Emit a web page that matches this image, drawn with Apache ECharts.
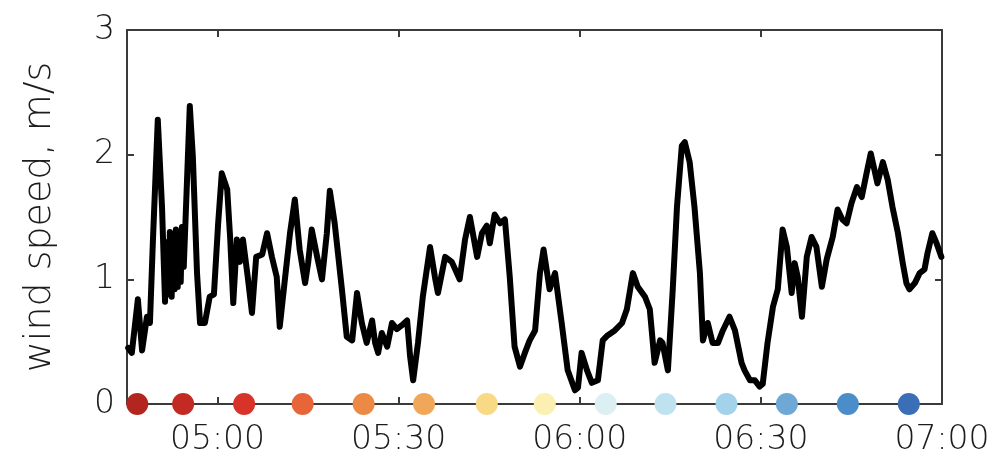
<!DOCTYPE html>
<html>
<head>
<meta charset="utf-8">
<style>
  html, body { margin: 0; padding: 0; background: #fff; }
  #chart { width: 998px; height: 462px; }
</style>
<script src="https://cdn.jsdelivr.net/npm/echarts@6/dist/echarts.min.js"></script>
</head>
<body>
<div id="chart"></div>
<script>
// Wind speed record, times in minutes after midnight
const windTimes = [
  285.2, 285.8, 286.8, 287.5, 288.3, 288.8, 289.3, 290.1, 290.8, 291.3,
  291.6, 291.9, 292.1, 292.4, 292.6, 292.9, 293.1, 293.4, 293.6, 293.9,
  294.1, 294.4, 294.7, 295.4, 295.9, 296.6, 297.1,
  297.9, 298.7, 299.4, 300.1, 300.7, 301.6, 302.1, 302.6, 303.2, 303.7,
  304.2, 305.0, 305.7, 306.4, 307.4, 308.2, 309.0, 309.8, 310.3, 311.2,
  312.0, 312.8, 313.6, 314.5, 315.0, 315.6, 316.5, 317.3, 318.1, 318.6,
  319.4, 320.6, 321.4, 322.3, 323.1, 323.9, 324.7, 325.6, 326.1, 326.6,
  327.2, 328.1, 328.9, 329.7, 330.5, 331.4, 331.9, 332.4, 333.2, 334.0,
  335.2, 336.0, 336.5, 337.7, 338.8, 340.1, 341.0, 341.8, 343.0, 343.8,
  344.6, 345.1, 345.9, 346.8, 347.6, 348.4, 349.2, 350.1, 350.9, 351.7,
  352.6, 353.4, 354.0, 355.0, 355.9, 357.0, 358.0, 359.2, 359.7, 360.3,
  361.2, 362.0, 363.0, 363.8, 364.6, 365.8, 367.0, 367.8, 368.8, 369.6,
  370.8, 371.6, 372.4, 373.3, 373.7, 374.6, 375.4, 376.1, 376.9, 377.4,
  378.2, 379.0, 379.9, 380.4, 381.2, 382.0, 382.9, 383.7, 384.8, 385.7,
  386.8, 387.3, 388.2, 389.0, 389.8, 390.3, 391.1, 392.0, 392.8, 393.6,
  394.3, 395.1, 395.6, 396.1, 396.8, 397.6, 398.4, 399.2, 400.1, 400.9,
  401.9, 402.7, 403.5, 404.2, 405.0, 405.9, 406.7, 407.5, 408.2, 408.8,
  409.3, 410.2, 411.0, 411.8, 412.7, 413.5, 414.1, 414.6, 415.5, 416.3,
  417.1, 417.6, 418.4, 419.1, 419.9
];
const windSpeeds = [
  0.45, 0.41, 0.84, 0.43, 0.70, 0.65, 1.32, 2.28, 1.58, 0.82,
  1.30, 0.88, 1.38, 0.86, 1.36, 0.92, 1.40, 0.94, 1.38, 0.98,
  1.42, 1.10, 1.48, 2.39, 1.99, 1.05, 0.65,
  0.65, 0.86, 0.88, 1.45, 1.85, 1.72, 1.32, 0.81, 1.32, 1.14,
  1.32, 1.02, 0.73, 1.18, 1.20, 1.37, 1.18, 1.02, 0.62, 1.02,
  1.37, 1.64, 1.24, 0.97, 1.13, 1.40, 1.18, 1.00, 1.37, 1.71,
  1.45, 0.92, 0.54, 0.51, 0.89, 0.65, 0.49, 0.67, 0.49, 0.41,
  0.57, 0.46, 0.65, 0.60, 0.63, 0.67, 0.38, 0.19, 0.49, 0.86,
  1.26, 1.02, 0.89, 1.18, 1.14, 1.00, 1.32, 1.50, 1.18, 1.37,
  1.43, 1.29, 1.52, 1.45, 1.48, 1.02, 0.46, 0.30, 0.41, 0.51,
  0.59, 1.05, 1.24, 0.92, 1.05, 0.65, 0.27, 0.11, 0.13, 0.41,
  0.27, 0.17, 0.19, 0.51, 0.55, 0.59, 0.65, 0.76, 1.05, 0.94,
  0.86, 0.76, 0.33, 0.51, 0.49, 0.27, 0.92, 1.58, 2.07, 2.10,
  1.94, 1.58, 1.05, 0.51, 0.65, 0.49, 0.49, 0.59, 0.70, 0.59,
  0.33, 0.27, 0.19, 0.19, 0.14, 0.16, 0.49, 0.78, 0.92, 1.40,
  1.26, 0.89, 1.13, 1.02, 0.70, 1.18, 1.34, 1.26, 0.94, 1.16,
  1.34, 1.56, 1.48, 1.45, 1.61, 1.74, 1.66, 1.85, 2.01, 1.88,
  1.77, 1.94, 1.80, 1.58, 1.37, 1.13, 0.97, 0.92, 0.97, 1.05,
  1.08, 1.21, 1.37, 1.29, 1.18
];

// Sampling markers along the time axis, warm to cool
const markerTimes = [286.7, 294.3, 304.4, 314.1, 324.2, 334.2, 344.6, 354.2, 364.3, 374.2, 384.3, 394.3, 404.4, 414.5];
const markerColors = [
  '#b3261f', '#c32a24', '#d83328', '#e8653a', '#ec8a45', '#f0a75a', '#f8da86',
  '#fbf0b2', '#dceff3', '#bfe2f0', '#a2d3ea', '#6ea8d4', '#4b8dc9', '#3a6fb7'
];

const timeTickLabels = ['05:00', '05:30', '06:00', '06:30', '07:00'];
const speedTicks = [0, 1, 2, 3];

const toMinutes = s => { const p = s.split(':'); return +p[0] * 60 + +p[1]; };
const toClock = m => {
  const h = Math.floor(m / 60), mm = Math.round(m - h * 60);
  return String(h).padStart(2, '0') + ':' + String(mm).padStart(2, '0');
};
const timeTicks = timeTickLabels.map(toMinutes);

const AXIS_COLOR = '#3a3a3a';
const TEXT_COLOR = '#1c1c1c';
const FONT = 'DejaVu Sans';
const FONT_WEIGHT = 200;
const T_MIN = toMinutes('04:45'), T_MAX = toMinutes('07:00');

const chart = echarts.init(document.getElementById('chart'));

const xBase = {
  type: 'value', min: T_MIN, max: T_MAX,
  splitLine: { show: false },
  axisLine: { show: true, onZero: false, lineStyle: { color: AXIS_COLOR, width: 2 } },
  axisTick: { show: true, inside: true, length: 7, customValues: timeTicks, lineStyle: { color: AXIS_COLOR, width: 2 } }
};
const yBase = {
  type: 'value', min: 0, max: 3, interval: 1,
  splitLine: { show: false },
  axisLine: { show: true, onZero: false, lineStyle: { color: AXIS_COLOR, width: 2 } },
  axisTick: { show: true, inside: true, length: 7, lineStyle: { color: AXIS_COLOR, width: 2 } }
};

chart.setOption({
  backgroundColor: '#fff',
  animation: false,
  grid: { left: 127, right: 56, top: 30, bottom: 58 },
  xAxis: [
    Object.assign({}, xBase, {
      position: 'bottom',
      axisLabel: {
        show: true, customValues: timeTicks, formatter: v => toClock(v),
        color: TEXT_COLOR, fontFamily: FONT, fontWeight: FONT_WEIGHT, fontSize: 33, margin: 20
      }
    }),
    Object.assign({}, xBase, { position: 'top', axisLabel: { show: false } })
  ],
  yAxis: [
    Object.assign({}, yBase, {
      position: 'left',
      name: 'wind speed, m/s',
      nameLocation: 'middle',
      nameGap: 64,
      nameTextStyle: { color: TEXT_COLOR, fontFamily: FONT, fontWeight: FONT_WEIGHT, fontSize: 38, padding: [0, 0, 4, 0] },
      axisLabel: {
        show: true, color: TEXT_COLOR, fontFamily: FONT, fontWeight: FONT_WEIGHT, fontSize: 33, margin: 12,
        customValues: speedTicks
      }
    }),
    Object.assign({}, yBase, { position: 'right', axisLabel: { show: false } })
  ],
  series: [
    {
      type: 'line',
      xAxisIndex: 0, yAxisIndex: 0,
      data: windTimes.map((t, i) => [t, windSpeeds[i]]),
      showSymbol: false,
      symbol: 'none',
      lineStyle: { color: '#000', width: 6, join: 'round', cap: 'round' },
      z: 3
    },
    {
      type: 'scatter',
      xAxisIndex: 0, yAxisIndex: 0,
      clip: false,
      symbolSize: 22,
      itemStyle: { opacity: 1 },
      data: markerTimes.map((t, i) => ({ value: [t, 0], itemStyle: { color: markerColors[i], opacity: 1 } })),
      z: 4
    }
  ]
});
</script>
</body>
</html>
